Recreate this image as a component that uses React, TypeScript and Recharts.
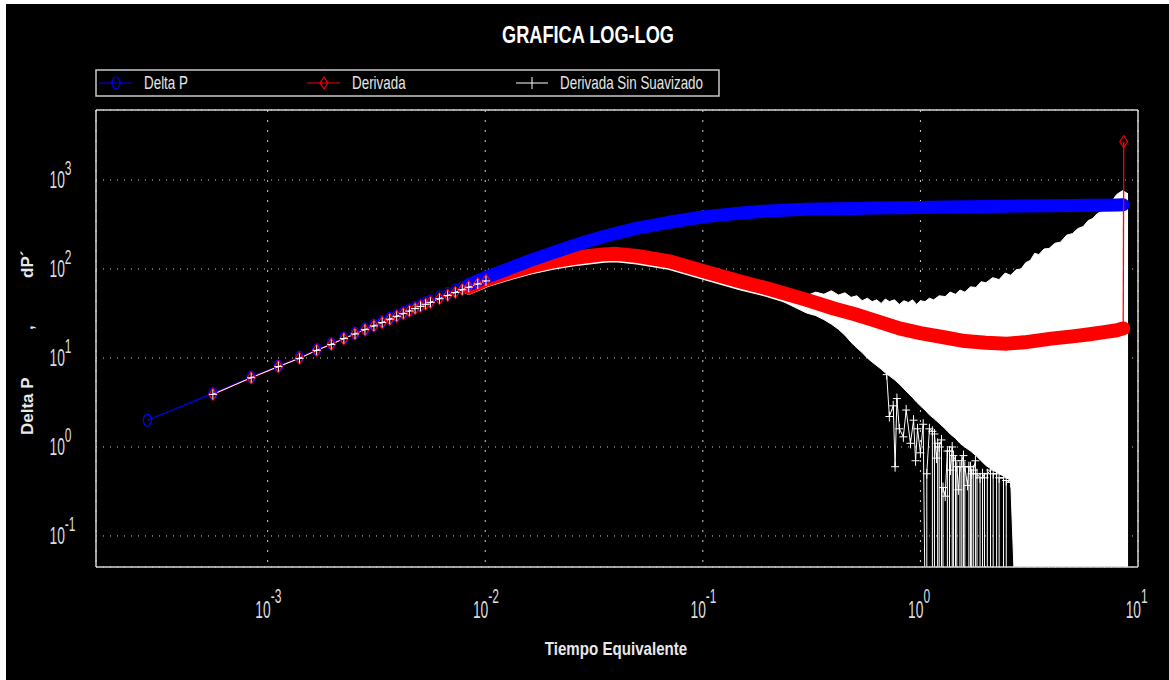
import { ComposedChart, Line, Area, XAxis, YAxis, CartesianGrid, Legend, ReferenceLine } from "recharts";

const W = 1169;
const H = 680;
const FONT = '"Liberation Sans", Arial, sans-serif';

// early time steps (discrete markers)
const earlyTime = [
  0.00028, 0.00056, 0.00084, 0.00112, 0.0014, 0.00168, 0.00196, 0.00224, 0.00252, 0.0028,
  0.00308, 0.00336, 0.00364, 0.00392, 0.0042, 0.00448, 0.00476, 0.00504, 0.00532, 0.0056,
  0.00616, 0.00672, 0.00728, 0.00784, 0.0084, 0.00924, 0.01008,
];
const deltaPEarly = [
  2.0, 4.0, 6.1, 8.1, 10.2, 12.4, 14.5, 16.8, 19.0, 21.2,
  23.4, 25.6, 27.9, 30.1, 32.4, 34.7, 37.0, 39.3, 41.6, 43.9,
  48.5, 53.1, 57.7, 62.3, 66.8, 73.5, 80.5,
];
// derivative starts at the 2nd time step
const derivEarly = [
  3.9, 6.0, 8.0, 10.0, 12.2, 14.3, 16.5, 18.7, 20.8,
  23.0, 25.1, 27.3, 29.5, 31.6, 33.8, 36.0, 38.1, 40.3, 42.4,
  46.6, 50.8, 54.9, 59.0, 63.0, 68.5, 74.5,
];
const rawEarly = [
  3.9, 6.0, 8.0, 9.9, 12.2, 14.2, 16.5, 18.6, 20.8,
  22.9, 25.0, 27.3, 29.4, 31.5, 33.7, 35.9, 38.0, 40.1, 42.2,
  46.3, 50.4, 54.5, 58.5, 62.4, 67.8, 73.5,
];

// dense part (markers merge into a band)
const bandTime = [
  0.0084, 0.01, 0.013, 0.016, 0.02, 0.025, 0.03, 0.035, 0.04, 0.05,
  0.07, 0.1, 0.15, 0.2, 0.3, 0.4, 0.5, 0.6, 0.8, 1.0,
  1.3, 1.6, 2.0, 2.5, 3.0, 4.0, 5.0, 6.0, 7.0, 8.0, 8.55,
];
const deltaPBand = [
  66.8, 80, 102, 124, 150, 180, 208, 232, 252, 288,
  335, 385, 425, 450, 468, 475, 480, 484, 488, 492,
  497, 500, 504, 508, 511, 515, 518, 520, 522, 524, 526,
];
const derivBand = [
  62, 75, 92, 106, 120, 132, 140, 146, 148, 140,
  122, 95, 72, 60, 45, 36, 31, 27, 21.5, 19,
  17, 15.5, 14.8, 14.5, 15, 16.5, 17.5, 18.5, 19.5, 20.5, 21.5,
];
const rawBand = [61, 73, 89, 102, 115, 126, 133, 139, 141, 133, 116, 90, 68, 57, 42];

// last derivative point shoots up
const derivTailTime = [8.55, 8.6];
const derivTail = [21.5, 2700];

// raw derivative noise cloud (low / high envelope)
const cloudTime = [
  0.2, 0.3, 0.33, 0.36, 0.39, 0.42, 0.45, 0.48, 0.51, 0.54,
  0.57, 0.6, 0.63, 0.66, 0.69, 0.72, 0.76, 0.8, 0.84, 0.88,
  0.92, 0.96, 1.0, 1.05, 1.1, 1.15, 1.22, 1.3, 1.37, 1.45,
  1.52, 1.6, 1.7, 1.8, 1.9, 2.0, 2.15, 2.3, 2.45, 2.6,
  2.75, 2.9, 3.05, 3.2, 3.35, 3.5, 3.7, 3.9, 4.15, 4.4,
  4.7, 5.0, 5.3, 5.6, 5.9, 6.2, 6.5, 6.8, 7.1, 7.4,
  7.7, 8.0, 8.5, 9.0,
];
const cloudHigh = [
  62, 50, 55, 52, 57, 51, 54, 48, 50, 44,
  47, 43, 45, 41, 46, 43, 45, 40, 44, 42,
  45, 40, 44, 43, 47, 45, 50, 49, 55, 52,
  58, 55, 63, 62, 72, 70, 80, 76, 90, 85,
  98, 100, 118, 125, 150, 145, 168, 170, 195, 200,
  240, 250, 285, 300, 350, 370, 420, 440, 500, 520,
  610, 690, 760, 700,
];
const cloudLow = [
  52, 32, 30, 27, 24, 21, 18, 15, 13, 11.5,
  10, 9, 8.2, 7.5, 6.8, 6.3, 5.7, 5.1, 4.5, 4.0,
  3.6, 3.2, 2.9, 2.6, 2.3, 2.1, 1.85, 1.6, 1.4, 1.25,
  1.1, 1.0, 0.9, 0.8, 0.7, 0.62, 0.55, 0.5, 0.46, 0.42,
  0.01, 0.01, 0.01, 0.01, 0.01, 0.01, 0.01, 0.01, 0.01, 0.01,
  0.01, 0.01, 0.01, 0.01, 0.01, 0.01, 0.01, 0.01, 0.01, 0.01,
  0.01, 0.01, 0.01, 0.01,
];

// scattered raw points and drop-outs below the cloud
const spikeTime = [
  0.7, 0.72, 0.75, 0.765, 0.78, 0.8, 0.835, 0.86, 0.9, 0.93,
  0.95, 0.97, 1.0, 1.03, 1.05, 1.07, 1.07, 1.1, 1.135, 1.135,
  1.16, 1.16, 1.185, 1.2, 1.2, 1.22, 1.22, 1.25, 1.25, 1.27,
  1.27, 1.3, 1.33, 1.33, 1.36, 1.36, 1.374, 1.4, 1.4, 1.418,
  1.418, 1.45, 1.45, 1.47, 1.47, 1.495, 1.52, 1.52, 1.55, 1.55,
  1.577, 1.577, 1.6, 1.6, 1.645, 1.67, 1.67, 1.7, 1.7, 1.72,
  1.72, 1.75, 1.75, 1.79, 1.79, 1.82, 1.82, 1.88, 1.88, 1.93,
  1.93, 1.97, 1.97, 2.03, 2.03, 2.1, 2.1, 2.16, 2.16, 2.24,
  2.24, 2.3, 2.3, 2.41, 2.41, 2.48, 2.48, 2.6,
];
const spikeValue = [
  6.5, 2.2, 2.9, 0.6, 3.5, 1.6, 1.3, 2.6, 1.1, 2.0,
  0.7, 1.6, 0.86, 1.8, 0.02, 0.02, 0.5, 1.6, 1.5, 0.02,
  0.02, 1.4, 0.75, 1.1, 0.02, 0.02, 1.0, 1.2, 0.02, 0.02,
  0.35, 0.28, 0.9, 0.02, 0.02, 0.9, 0.55, 1.0, 0.02, 0.02,
  0.8, 0.7, 0.02, 0.02, 0.6, 0.33, 0.6, 0.02, 0.02, 0.7,
  0.8, 0.02, 0.02, 0.6, 0.37, 0.6, 0.02, 0.02, 0.6, 0.5,
  0.02, 0.02, 0.55, 0.7, 0.02, 0.02, 0.5, 0.45, 0.02, 0.02,
  0.5, 0.45, 0.02, 0.02, 0.5, 0.55, 0.02, 0.02, 0.5, 0.5,
  0.02, 0.02, 0.45, 0.45, 0.02, 0.02, 0.42, 0.4,
];

const xTicks = [0.001, 0.01, 0.1, 1, 10];
const xTickExp = ["-3", "-2", "-1", "0", "1"];
const yTicks = [0.1, 1, 10, 100, 1000];
const yTickExp = ["-1", "0", "1", "2", "3"];

const X_MIN = 0.0001626;
const X_MAX = 10;
const Y_MIN = 0.0448;
const Y_MAX = 6120;

const pts = (ts: number[], vs: number[]) => ts.map((t, i) => ({ t, v: vs[i] }));

const deltaPEarlyData = pts(earlyTime, deltaPEarly);
const derivEarlyData = pts(earlyTime.slice(1), derivEarly);
const rawEarlyData = pts(earlyTime.slice(1), rawEarly);
const deltaPBandData = pts(bandTime, deltaPBand);
const derivBandData = pts(bandTime, derivBand);
const rawBandData = pts(bandTime.slice(0, rawBand.length), rawBand);
const derivTailData = pts(derivTailTime, derivTail);
const cloudData = cloudTime.map((t, i) => ({ t, r: [cloudLow[i], cloudHigh[i]] }));
const spikeData = pts(spikeTime, spikeValue);

const TICK_COLOR = "#dcdcdc";
const FRAME = "#d6d6d6";

function XTick(props: any) {
  const { x, y, index } = props;
  return (
    <g transform={`translate(${x},${y}) scale(0.6,1)`}>
      <text x={5} y={51} textAnchor="end" fontSize={23} fill={TICK_COLOR} fontFamily={FONT}>10</text>
      <text x={5} y={36} textAnchor="start" fontSize={20} fill={TICK_COLOR} fontFamily={FONT}>{xTickExp[index]}</text>
    </g>
  );
}

function YTick(props: any) {
  const { x, y, index } = props;
  return (
    <g transform={`translate(${x},${y}) scale(0.6,1)`}>
      <text x={-52} y={8} textAnchor="end" fontSize={23} fill={TICK_COLOR} fontFamily={FONT}>10</text>
      <text x={-52} y={-5} textAnchor="start" fontSize={20} fill={TICK_COLOR} fontFamily={FONT}>{yTickExp[index]}</text>
    </g>
  );
}

const circleDot = (p: any) => (
  <ellipse key={`c${p.index}`} cx={p.cx} cy={p.cy} rx={4} ry={6} fill="none" stroke="#0000ff" strokeWidth={1.2} />
);
const diamondDot = (p: any) => (
  <path key={`d${p.index}`} d={`M${p.cx},${p.cy - 6}L${p.cx + 4},${p.cy}L${p.cx},${p.cy + 6}L${p.cx - 4},${p.cy}Z`} fill="none" stroke="#ff0000" strokeWidth={1.1} />
);
const plusDot = (p: any) => (
  <path key={`p${p.index}`} d={`M${p.cx - 4},${p.cy}H${p.cx + 4}M${p.cx},${p.cy - 5}V${p.cy + 5}`} stroke="#ffffff" strokeWidth={1} />
);
const lastDiamond = (p: any) =>
  p.index === derivTail.length - 1 ? diamondDot(p) : <g key={`e${p.index}`} />;

function LegendBox() {
  const txt = (x: number, s: string) => (
    <text transform={`translate(${x},20) scale(0.745,1)`} fontSize={18} fill="#e6e6e6" fontFamily={FONT}>{s}</text>
  );
  return (
    <svg width={626} height={29} style={{ display: "block" }}>
      <rect x={1} y={1} width={623} height={26} fill="#000" stroke="#c8c8c8" strokeWidth={1.5} />
      <line x1={4} x2={37} y1={14} y2={14} stroke="#0000ff" strokeWidth={1.2} />
      <ellipse cx={21} cy={14} rx={4} ry={6} fill="none" stroke="#0000ff" strokeWidth={1.2} />
      {txt(49, "Delta P")}
      <line x1={212} x2={245} y1={14} y2={14} stroke="#ff0000" strokeWidth={1.2} />
      <path d="M229,8L233,14L229,20L225,14Z" fill="none" stroke="#ff0000" strokeWidth={1.1} />
      {txt(257, "Derivada")}
      <line x1={421} x2={453} y1={14} y2={14} stroke="#ffffff" strokeWidth={1} />
      <path d="M437,8V20" stroke="#ffffff" strokeWidth={1} />
      {txt(465, "Derivada Sin Suavizado")}
    </svg>
  );
}

export default function App() {
  return (
    <div style={{ position: "absolute", left: 0, top: 0, width: W, height: H, background: "#fff", overflow: "hidden" }}>
      <div style={{ position: "absolute", left: 6, top: 4, width: W - 6, height: H - 4, background: "#000" }} />
      <div style={{ position: "absolute", left: 0, top: 0 }}>
        <ComposedChart width={W} height={H} margin={{ top: 110, right: 31, bottom: 73, left: 0 }}>
          <CartesianGrid horizontal={false} stroke="#cfcfcf" strokeDasharray="2 8" />
          <CartesianGrid vertical={false} stroke="#cfcfcf" strokeDasharray="1 6" />
          <XAxis
            dataKey="t"
            type="number"
            scale="log"
            domain={[X_MIN, X_MAX]}
            allowDataOverflow
            ticks={xTicks}
            interval={0}
            tick={(p: any) => <XTick {...p} />}
            tickLine={false}
            tickSize={0}
            tickMargin={0}
            height={40}
            axisLine={{ stroke: FRAME, strokeWidth: 1.5 }}
          />
          <YAxis
            type="number"
            scale="log"
            domain={[Y_MIN, Y_MAX]}
            allowDataOverflow
            ticks={yTicks}
            interval={0}
            tick={(p: any) => <YTick {...p} />}
            tickLine={false}
            tickSize={0}
            tickMargin={0}
            width={96}
            axisLine={{ stroke: FRAME, strokeWidth: 1.5 }}
          />
          <Legend
            content={() => <LegendBox />}
            verticalAlign="middle"
            align="center"
            layout="horizontal"
            wrapperStyle={{ top: 69, left: 95, width: 626, height: 29 }}
          />

          <Area data={cloudData} dataKey="r" type="linear" stroke="#ffffff" strokeWidth={1} fill="#ffffff" fillOpacity={1} isAnimationActive={false} legendType="none" activeDot={false} />
          <Line data={spikeData} dataKey="v" type="linear" stroke="#ffffff" strokeWidth={1} dot={plusDot} isAnimationActive={false} legendType="none" activeDot={false} />
          <Line data={rawBandData} dataKey="v" type="linear" stroke="#ffffff" strokeWidth={13} strokeLinecap="round" dot={false} isAnimationActive={false} legendType="none" activeDot={false} />
          <Line data={derivBandData} dataKey="v" type="linear" stroke="#ff0000" strokeWidth={14} strokeLinecap="round" strokeLinejoin="round" dot={false} isAnimationActive={false} legendType="none" activeDot={false} />
          <Line data={deltaPBandData} dataKey="v" type="linear" stroke="#0000ff" strokeWidth={13} strokeLinecap="round" strokeLinejoin="round" dot={false} isAnimationActive={false} legendType="none" activeDot={false} />
          <Line data={derivTailData} dataKey="v" type="linear" stroke="#ff0000" strokeWidth={1.3} dot={lastDiamond} isAnimationActive={false} legendType="none" activeDot={false} />
          <Line data={deltaPEarlyData} dataKey="v" name="Delta P" type="linear" stroke="#0000ff" strokeWidth={1.2} dot={circleDot} isAnimationActive={false} activeDot={false} />
          <Line data={derivEarlyData} dataKey="v" name="Derivada" type="linear" stroke="#ff0000" strokeWidth={1.2} dot={diamondDot} isAnimationActive={false} activeDot={false} />
          <Line data={rawEarlyData} dataKey="v" name="Derivada Sin Suavizado" type="linear" stroke="#ffffff" strokeWidth={1} dot={plusDot} isAnimationActive={false} activeDot={false} />

          <ReferenceLine y={Y_MAX} stroke={FRAME} strokeWidth={1.5} ifOverflow="visible" />
          <ReferenceLine x={X_MAX} stroke={FRAME} strokeWidth={1.5} ifOverflow="visible" />
        </ComposedChart>
      </div>
      <svg width={W} height={H} style={{ position: "absolute", left: 0, top: 0, pointerEvents: "none" }}>
        <g transform="translate(588,43) scale(0.79,1)">
          <text textAnchor="middle" fontSize={23} fontWeight="bold" fill="#ffffff" fontFamily={FONT}>GRAFICA LOG-LOG</text>
        </g>
        <g transform="translate(616,655) scale(0.84,1)">
          <text textAnchor="middle" fontSize={18} fontWeight="bold" fill="#e8e8e8" fontFamily={FONT}>Tiempo Equivalente</text>
        </g>
        <g transform="translate(33,0) rotate(-90)" fontSize={17} fontWeight="bold" fill="#e8e8e8" fontFamily={FONT}>
          <text x={-435} y={0}>Delta P</text>
          <text x={-330} y={0}>,</text>
          <text x={-278} y={0}>dP´</text>
        </g>
      </svg>
    </div>
  );
}
